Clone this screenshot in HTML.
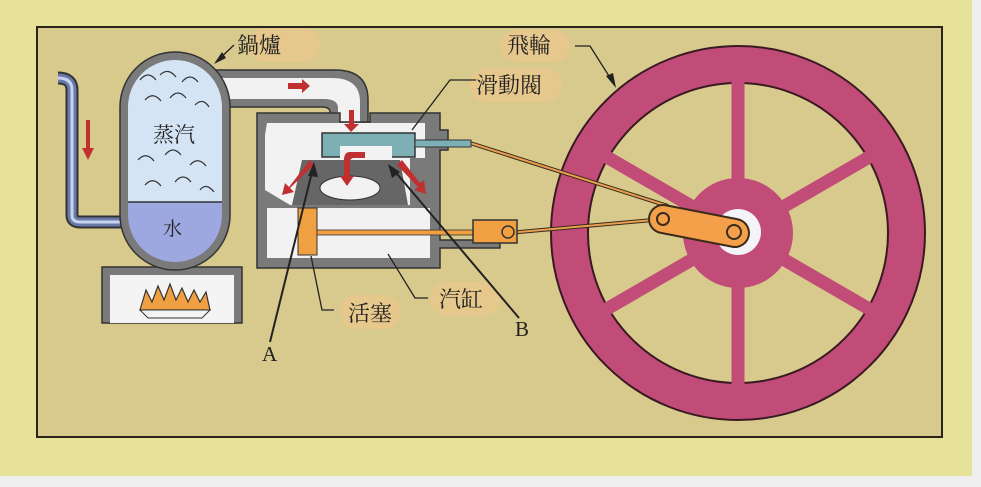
<!DOCTYPE html>
<html><head><meta charset="utf-8"><style>
html,body{margin:0;padding:0;background:#efefef;}
svg{display:block}
text{font-family:"Liberation Serif","Noto Serif CJK SC",serif;fill:#222}
</style></head><body>
<svg width="981" height="487" viewBox="0 0 981 487">
<rect x="0" y="0" width="972" height="476" fill="#e6e29a"/>
<rect x="37" y="27" width="905" height="410" fill="#d8c98c" stroke="#2a2418" stroke-width="2"/>

<!-- flywheel -->
<g>
<circle cx="738" cy="233" r="187" fill="#c24c78" stroke="#3a1a22" stroke-width="2"/>
<circle cx="738" cy="233" r="150" fill="#d8c98c" stroke="#3a1a22" stroke-width="2"/>
<g stroke="#c24c78" stroke-width="13">
<line x1="738" y1="233" x2="738" y2="80"/>
<line x1="738" y1="233" x2="738" y2="386"/>
<line x1="738" y1="233" x2="871" y2="156"/>
<line x1="738" y1="233" x2="605" y2="156"/>
<line x1="738" y1="233" x2="871" y2="310"/>
<line x1="738" y1="233" x2="605" y2="310"/>
</g>
<circle cx="738" cy="233" r="55" fill="#c24c78"/>
<circle cx="738" cy="232" r="23" fill="#f4f4f8"/>
</g>

<!-- rods -->
<line x1="470" y1="143" x2="668" y2="206" stroke="#3a2a1a" stroke-width="4"/>
<line x1="470" y1="143" x2="668" y2="206" stroke="#e8a050" stroke-width="2"/>
<line x1="508" y1="233" x2="664" y2="219" stroke="#3a2a1a" stroke-width="4"/>
<line x1="508" y1="233" x2="664" y2="219" stroke="#e8a050" stroke-width="2"/>
<line x1="663" y1="219" x2="735" y2="233" stroke="#3a2a1a" stroke-width="30" stroke-linecap="round"/>
<line x1="663" y1="219" x2="735" y2="233" stroke="#f4a04a" stroke-width="26" stroke-linecap="round"/>
<circle cx="663" cy="219" r="6" fill="#f4a04a" stroke="#3a2a1a" stroke-width="2"/>
<circle cx="734" cy="232" r="7" fill="#f4a04a" stroke="#3a2a1a" stroke-width="2"/>

<!-- steam pipe -->
<g>
<path d="M215 70 H335 Q368 70 368 100 V124 H330 V112 Q330 107 322 107 H225" fill="#7a7a7a" stroke="#333" stroke-width="1.5"/>
<path d="M220 78 H332 Q360 78 360 102 V124 H338 V108 Q338 99 324 99 H220 Z" fill="#f2f2f2"/>
</g>
<polygon points="288,83 302,83 302,79 310,86 302,93 302,89 288,89" fill="#c03030"/>

<!-- inlet pipe -->
<g>
<path d="M58 78 Q72 78 72 90 V215 Q72 222 80 222 H122" fill="none" stroke="#333" stroke-width="13"/>
<path d="M58 78 Q72 78 72 90 V215 Q72 222 80 222 H122" fill="none" stroke="#6a7aa8" stroke-width="9"/>
<path d="M58 78 Q72 78 72 90 V215 Q72 222 80 222 H122" fill="none" stroke="#c8d4ee" stroke-width="3"/>
</g>
<rect x="86" y="120" width="4" height="30" fill="#c03030"/>
<polygon points="82,148 94,148 88,160" fill="#c03030"/>

<!-- firebox -->
<g>
<rect x="102" y="267" width="140" height="56" fill="#7a7a7a" stroke="#333" stroke-width="1.5"/>
<rect x="110" y="275" width="124" height="48" fill="#f4f4f4"/>
<path d="M140 310 L146 290 L152 302 L158 286 L164 300 L170 284 L176 300 L182 288 L188 302 L194 290 L200 302 L206 292 L210 310 Z" fill="#f0a040" stroke="#333" stroke-width="1.2"/>
<path d="M140 310 H210 L202 318 H148 Z" fill="#f4f4f4" stroke="#333" stroke-width="1"/>
</g>

<!-- boiler -->
<g>
<rect x="120" y="52" width="110" height="218" rx="55" fill="#7a7a7a" stroke="#333" stroke-width="1.5"/>
<clipPath id="bc"><rect x="128" y="60" width="94" height="202" rx="47"/></clipPath>
<g clip-path="url(#bc)">
<rect x="128" y="60" width="94" height="142" fill="#d4e4f4"/>
<rect x="128" y="202" width="94" height="70" fill="#9ea8e0"/>
<g fill="none" stroke="#333" stroke-width="1.2">
<path d="M140 80 q8 -10 16 0 M160 75 q8 -8 16 2 M182 82 q8 -10 16 0 M145 100 q8 -9 16 1 M170 98 q8 -10 16 0 M195 105 q8 -8 14 2 M138 160 q8 -9 16 1 M165 155 q8 -10 16 0 M190 165 q8 -9 16 1 M145 185 q8 -9 16 1 M175 182 q8 -10 16 0 M200 190 q6 -8 14 2"/>
</g>
</g>
<line x1="128" y1="202" x2="222" y2="202" stroke="#333" stroke-width="1.5"/>
</g>
<text x="153" y="142" font-size="21">蒸汽</text>
<text x="163" y="235" font-size="19">水</text>

<!-- cylinder block -->
<g>
<path d="M257 113 H340 V122 H370 V113 H440 V130 H448 V150 H440 V240 H500 V248 H440 V268 H257 Z" fill="#7a7a7a" stroke="#333" stroke-width="1.5"/>
<path d="M267 123 H425 V158 H410 V205 H290 L265 190 V135 Z" fill="#f2f2f2"/>
<rect x="267" y="208" width="163" height="50" fill="#f2f2f2"/>
<polygon points="292,205 302,160 400,160 408,205" fill="#666"/>
<ellipse cx="350" cy="188" rx="30" ry="12" fill="#f2f2f2" stroke="#333"/>
<rect x="322" y="133" width="93" height="24" fill="#7cb0b4" stroke="#333" stroke-width="1.5"/>
<rect x="340" y="146" width="52" height="14" fill="#f2f2f2"/>
<rect x="415" y="140" width="56" height="7" fill="#7cb0b4" stroke="#333"/>
<rect x="298" y="208" width="19" height="47" fill="#f0a040" stroke="#333"/>
<rect x="317" y="230" width="160" height="5" fill="#f0a040" stroke="#333" stroke-width="0.8"/>
<rect x="473" y="220" width="44" height="23" fill="#f0a040" stroke="#333" stroke-width="1.5"/>
<circle cx="508" cy="232" r="6" fill="#f0a040" stroke="#333" stroke-width="1.5"/>
</g>
<g fill="#c03030">
<rect x="349" y="110" width="5" height="16"/><polygon points="344,124 359,124 351,132"/>
<path d="M365 152 H350 Q344 152 344 160 V178 H350 V162 Q350 158 354 158 H365 Z"/><polygon points="340,176 354,176 347,186"/>
<polygon points="310,160 314,165 290,188 294,192 282,195 285,183 289,187"/>
<polygon points="397,165 402,160 420,183 424,180 426,194 414,190 418,187"/>
</g>

<!-- labels -->
<g fill="#e6c88c">
<rect x="248" y="28" width="72" height="34" rx="16"/>
<rect x="500" y="30" width="70" height="32" rx="16"/>
<rect x="470" y="68" width="92" height="34" rx="16"/>
<rect x="340" y="295" width="60" height="34" rx="16"/>
<rect x="430" y="282" width="70" height="34" rx="16"/>
</g>
<text x="237" y="53" font-size="22">鍋爐</text>
<text x="507" y="53" font-size="22">飛輪</text>
<text x="476" y="93" font-size="22">滑動閥</text>
<text x="348" y="321" font-size="22">活塞</text>
<text x="439" y="307" font-size="22">汽缸</text>
<text x="262" y="361" font-size="21">A</text>
<text x="515" y="336" font-size="21">B</text>

<g stroke="#222" stroke-width="1.3" fill="none">
<path d="M234 45 L216 62"/>
<path d="M575 46 L590 46 L614 84"/>
<path d="M476 80 L450 80 L412 130"/>
<path d="M334 310 L322 310 L311 256"/>
<path d="M428 298 L415 298 L388 254"/>
<path d="M270 342 L313 168" stroke-width="2"/>
<path d="M519 318 L392 168" stroke-width="2"/>
</g>
<g fill="#222">
<polygon points="214,64 222,52 226,58"/>
<polygon points="616,88 606,76 613,73"/>
<polygon points="314,162 308,176 318,177"/>
<polygon points="388,164 392,178 400,172"/>
</g>
</svg>
</body></html>
